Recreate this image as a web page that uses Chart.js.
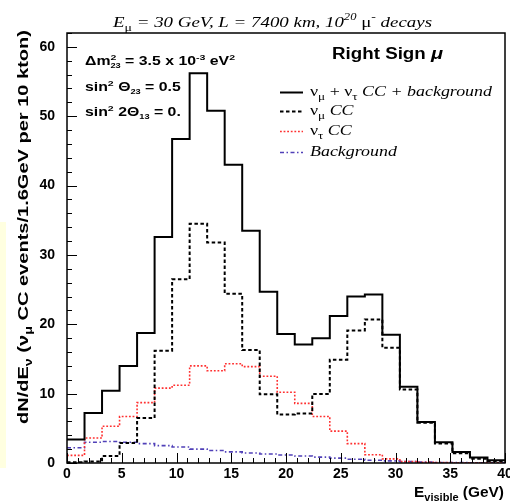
<!DOCTYPE html>
<html><head><meta charset="utf-8">
<script src="https://cdn.jsdelivr.net/npm/chart.js@4/dist/chart.umd.min.js"></script>
<style>html,body{margin:0;padding:0;background:#fff}#wrap{width:510px;height:503px;position:relative}</style>
</head><body><div id="wrap"><canvas id="c" width="510" height="503"></canvas></div>
<script>
// ---- data ----
const binEdges = [0,1.6,3.2,4.8,6.4,8.0,9.6,11.2,12.8,14.4,16.0,17.6,19.2,20.8,22.4,24.0,25.6,27.2,28.8,30.4,32.0,33.6,35.2,36.8,38.4,40.0];
const totalCC  = [3.4,7.2,10.4,14.0,18.75,32.6,46.7,56.2,50.8,43.0,33.5,24.7,18.6,17.1,18.0,21.2,24.0,24.3,18.5,11.0,5.9,3.0,1.6,0.8,0.4];
const numuCC   = [0.1,0.2,1.0,2.9,6.5,16.2,26.5,34.5,31.8,24.4,16.3,9.9,7.0,7.15,9.95,14.9,19.1,20.7,16.6,10.6,5.8,2.8,1.4,0.6,0.3];
const nutauCC  = [1.1,3.6,5.3,6.7,8.7,10.8,11.2,14.0,13.3,14.3,13.9,12.5,10.2,8.6,6.7,4.6,2.8,1.2,0.6,0.2,0.1,0.05,0.03,0.02,0.02];
const backgr   = [2.2,3.0,3.1,3.0,2.8,2.5,2.3,2.0,1.8,1.6,1.45,1.3,1.15,1.0,0.85,0.7,0.55,0.4,0.3,0.2,0.12,0.08,0.05,0.03,0.02];
const xTickLabels = ['0','5','10','15','20','25','30','35','40'];
const yTickLabels = ['0','10','20','30','40','50','60'];

function histPoints(vals){
  const pts = vals.map((v,i)=>({x:binEdges[i], y:v}));
  pts.push({x:binEdges[binEdges.length-1], y:vals[vals.length-1]});
  return pts;
}

const styles = {
  total: {color:'#000000', width:2, dash:[]},
  numu:  {color:'#000000', width:2, dash:[3.5,2.5]},
  nutau: {color:'#ff3030', width:1.6, dash:[1.8,1.8]},
  bg:    {color:'#5040b8', width:1.6, dash:[4,2.5,1.5,2.5]}
};

function ds(vals, st){
  return {data:histPoints(vals), stepped:true, borderColor:st.color, borderWidth:st.width,
    borderDash:st.dash, pointRadius:0, fill:false, tension:0, borderCapStyle:'butt', borderJoinStyle:'miter'};
}

const SANS = '"Liberation Sans", Arial, sans-serif';
const SERIF = '"Liberation Serif", "Times New Roman", serif';

function measure(ctx, segs){
  let w = 0;
  segs.forEach(s=>{ ctx.font = s.f; if(!s.na) w += ctx.measureText(s.t).width; });
  return w;
}
// draw rich text, horizontally stretched by sx
function rich(ctx, x, y, segs, align, sx){
  sx = sx || 1;
  const w = measure(ctx, segs) * sx;
  const x0 = align==='right' ? x-w : align==='center' ? x-w/2 : x;
  ctx.save();
  ctx.translate(x0, y); ctx.scale(sx, 1);
  let cx = 0;
  segs.forEach(s=>{ ctx.font = s.f; ctx.fillText(s.t, cx, (s.dy||0)); if(!s.na) cx += ctx.measureText(s.t).width; });
  ctx.restore();
  return w;
}

const rootPlugin = {
  id:'rootStyle',
  beforeDraw(chart){
    const ctx = chart.ctx;
    ctx.save();
    ctx.fillStyle = '#ffffff'; ctx.fillRect(0,0,chart.width,chart.height);
    ctx.fillStyle = '#ffffe0'; ctx.fillRect(0,222,6,246);
    ctx.restore();
  },
  afterDatasetsDraw(chart){
    const ctx = chart.ctx, a = chart.chartArea;
    const xs = chart.scales.x, ys = chart.scales.y;
    ctx.save();
    ctx.strokeStyle = '#000'; ctx.lineWidth = 1;
    ctx.beginPath();
    xs.ticks.forEach(t=>{
      const px = Math.round(xs.getPixelForValue(t.value))+0.5;
      const L = (t.value % 5 === 0) ? 10 : 5;
      ctx.moveTo(px, a.bottom); ctx.lineTo(px, a.bottom - L);
    });
    ys.ticks.forEach(t=>{
      const py = Math.round(ys.getPixelForValue(t.value))+0.5;
      const L = (t.value % 10 === 0) ? 10 : 5;
      ctx.moveTo(a.left, py); ctx.lineTo(a.left + L, py);
    });
    ctx.stroke();
    ctx.lineWidth = 1.5;
    ctx.strokeRect(a.left, a.top, a.right-a.left, a.bottom-a.top);
    ctx.restore();
  },
  afterDraw(chart){
    const ctx = chart.ctx;
    ctx.save();
    ctx.fillStyle = '#000'; ctx.textBaseline = 'alphabetic'; ctx.textAlign = 'left';
    // title
    const ti = 'italic 15px '+SERIF, tn = '15px '+SERIF, tsi = 'italic 10px '+SERIF, tsn = '11px '+SERIF;
    const titleSegs = [
      {t:'E', f:ti}, {t:'\u03bc', f:tsn, dy:4}, {t:' = 30 GeV, L = 7400 km, 10', f:ti},
      {t:'20', f:tsi, dy:-7}, {t:' \u03bc', f:tn}, {t:'-', f:tsn, dy:-7}, {t:' decays', f:ti}
    ];
    rich(ctx, 272.5, 27, titleSegs, 'center', 319/measure(ctx, titleSegs));
    // parameters
    const b12 = 'bold 12px '+SANS, b8 = 'bold 8px '+SANS, b7 = 'bold 7px '+SANS;
    const p1 = [
      {t:'\u0394m', f:b12}, {t:'2', f:b8, dy:-5, na:true}, {t:'23', f:b7, dy:3},
      {t:' = 3.5 x 10', f:b12}, {t:'-3', f:b8, dy:-5}, {t:' eV', f:b12}, {t:'2', f:b8, dy:-5}
    ];
    const psx = 150/measure(ctx, p1);
    rich(ctx, 85, 65, p1, 'left', psx);
    rich(ctx, 85, 91, [
      {t:'sin', f:b12}, {t:'2', f:b8, dy:-5}, {t:' \u0398', f:b12}, {t:'23', f:b7, dy:3}, {t:' = 0.5', f:b12}
    ], 'left', psx);
    rich(ctx, 85, 116, [
      {t:'sin', f:b12}, {t:'2', f:b8, dy:-5}, {t:' 2\u0398', f:b12}, {t:'13', f:b7, dy:3}, {t:' = 0.', f:b12}
    ], 'left', psx);
    // Right sign
    const rs = [{t:'Right Sign ', f:'bold 16px '+SANS}, {t:'\u03bc', f:'bold italic 17px '+SANS}];
    rich(ctx, 332, 59, rs, 'left', 111/measure(ctx, rs));
    // legend
    const lx0 = 280, lx1 = 303, tx = 310;
    const rows = [
      {y:92, st:styles.total, segs:[{t:'\u03bd', f:tn},{t:'\u03bc', f:tsn, dy:4},{t:' + \u03bd', f:tn},{t:'\u03c4', f:tsn, dy:4},{t:' CC + background', f:ti}]},
      {y:111, st:styles.numu, segs:[{t:'\u03bd', f:tn},{t:'\u03bc', f:tsn, dy:4},{t:' CC', f:ti}]},
      {y:131, st:styles.nutau, segs:[{t:'\u03bd', f:tn},{t:'\u03c4', f:tsn, dy:4},{t:' CC', f:ti}]},
      {y:152, st:styles.bg, segs:[{t:'Background', f:ti}]}
    ];
    const lsx = 182/measure(ctx, rows[0].segs);
    rows.forEach(r=>{
      ctx.save();
      ctx.strokeStyle = r.st.color; ctx.lineWidth = r.st.width; ctx.setLineDash(r.st.dash);
      ctx.beginPath(); ctx.moveTo(lx0, r.y+0.5); ctx.lineTo(lx1, r.y+0.5); ctx.stroke();
      ctx.restore();
      rich(ctx, tx, r.y+4, r.segs, 'left', lsx);
    });
    // x title
    const b15 = 'bold 14px '+SANS, b10 = 'bold 10px '+SANS;
    const xt = [{t:'E', f:b15},{t:'visible', f:b10, dy:4},{t:' (GeV)', f:b15}];
    rich(ctx, 504, 497, xt, 'right', 90/measure(ctx, xt));
    // y title
    ctx.save();
    ctx.translate(28, 424);
    ctx.rotate(-Math.PI/2);
    const y14 = 'bold 14px '+SANS, y10 = 'bold 10px '+SANS;
    const yt = [
      {t:'dN/dE', f:y14}, {t:'\u03bd', f:y10, dy:4}, {t:' (\u03bd', f:y14}, {t:'\u03bc', f:y10, dy:4},
      {t:' CC events/1.6GeV per 10 kton)', f:y14}
    ];
    rich(ctx, 0, 0, yt, 'left', 394/measure(ctx, yt));
    ctx.restore();
    ctx.restore();
  }
};

new Chart(document.getElementById('c'), {
  type:'line',
  data:{datasets:[ds(totalCC, styles.total), ds(numuCC, styles.numu), ds(nutauCC, styles.nutau), ds(backgr, styles.bg)]},
  options:{
    responsive:false, animation:false, devicePixelRatio:1,
    layout:{padding:{top:33, right:5, left:0, bottom:0}},
    plugins:{legend:{display:false}, tooltip:{enabled:false}, title:{display:false}},
    scales:{
      x:{type:'linear', min:0, max:40,
        ticks:{stepSize:1, maxTicksLimit:100, autoSkip:false, maxRotation:0, padding:3, color:'#000',
          font:{family:SANS, weight:'bold', size:14},
          callback:(v)=> xTickLabels.includes(String(v)) ? String(v) : ''},
        grid:{display:false, drawTicks:false}, border:{display:false},
        afterFit(s){ s.height = 40; s.paddingLeft = 0; s.paddingRight = 0; }
      },
      y:{type:'linear', min:0, max:62,
        ticks:{stepSize:2, maxTicksLimit:100, autoSkip:false, padding:12, color:'#000',
          font:{family:SANS, weight:'bold', size:14},
          callback:(v)=> yTickLabels.includes(String(v)) ? String(v) : ''},
        grid:{display:false, drawTicks:false}, border:{display:false},
        afterFit(s){ s.width = 67; s.paddingTop = 0; s.paddingBottom = 0; }
      }
    }
  },
  plugins:[rootPlugin]
});
</script>
</body></html>
